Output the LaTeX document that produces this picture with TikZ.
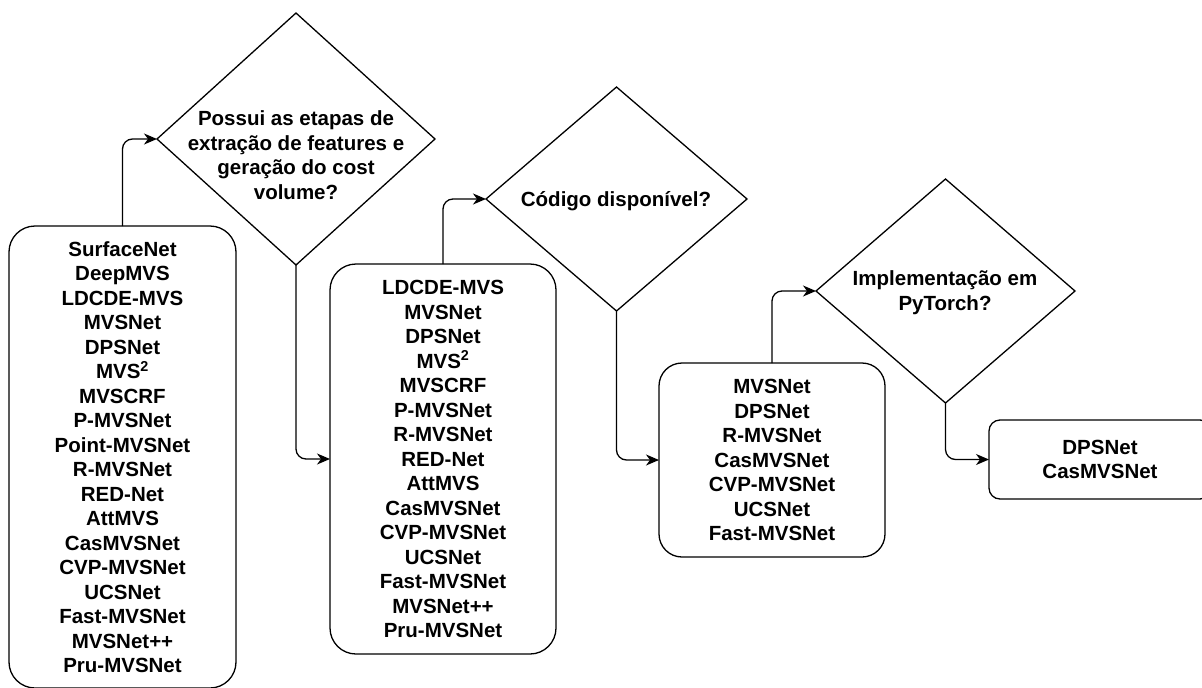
\documentclass[tikz,border=0pt]{standalone}
\usepackage{fontspec}
\setmainfont{Liberation Sans}
\usetikzlibrary{shapes.geometric,arrows.meta}
\begin{document}
\begin{tikzpicture}[x=1pt,y=-1pt,
  lbl/.style={font=\bfseries\fontsize{20.5}{24.5}\selectfont, align=center, inner sep=0pt, outer sep=0pt},
  box/.style={draw, line width=1.3pt, rounded corners=#1, lbl},
  dia/.style={draw, line width=1.3pt, diamond, inner sep=0pt, outer sep=0pt},
  arr/.style={line width=1.3pt, rounded corners=10pt, -{Stealth[length=13pt,width=11pt,inset=4pt]}}
]
\useasboundingbox (0,0) rectangle (1202,688);

% boxes
\node[box=26pt, minimum width=227pt, minimum height=462pt] (b1) at (122.5,457)
  {SurfaceNet\\DeepMVS\\LDCDE-MVS\\MVSNet\\DPSNet\\MVS\textsuperscript{2}\\MVSCRF\\P-MVSNet\\Point-MVSNet\\R-MVSNet\\RED-Net\\AttMVS\\CasMVSNet\\CVP-MVSNet\\UCSNet\\Fast-MVSNet\\MVSNet++\\Pru-MVSNet};
\node[box=26pt, minimum width=226pt, minimum height=390pt] (b2) at (443,459)
  {LDCDE-MVS\\MVSNet\\DPSNet\\MVS\textsuperscript{2}\\MVSCRF\\P-MVSNet\\R-MVSNet\\RED-Net\\AttMVS\\CasMVSNet\\CVP-MVSNet\\UCSNet\\Fast-MVSNet\\MVSNet++\\Pru-MVSNet};
\node[box=23pt, minimum width=226pt, minimum height=194pt] (b3) at (772,460)
  {MVSNet\\DPSNet\\R-MVSNet\\CasMVSNet\\CVP-MVSNet\\UCSNet\\Fast-MVSNet};
\node[box=11pt, minimum width=222pt, minimum height=79pt] (b4) at (1100,459.5)
  {DPSNet\\CasMVSNet};

% decisions
\node[dia, minimum width=278pt, minimum height=252pt] (d1) at (296,139) {};
\node[lbl] (d1t) at (296,155) {Possui as etapas de\\extração de features e\\geração do cost\\volume?};
\node[dia, minimum width=261pt, minimum height=224pt] (d2) at (616.5,199) {};
\node[lbl] (d2t) at (616,201) {Código disponível?};
\node[dia, minimum width=259pt, minimum height=224pt] (d3) at (945.5,291) {};
\node[lbl] (d3t) at (945,292.5) {Implementação em\\PyTorch?};

% connectors
\draw[arr] (b1.north) |- (d1.west);
\draw[arr] (d1.south) |- (b2.west);
\draw[arr] (b2.north) |- (d2.west);
\draw[arr] (d2.south) |- (b3.west);
\draw[arr] (b3.north) |- (d3.west);
\draw[arr] (d3.south) |- (b4.west);
\end{tikzpicture}
\end{document}
